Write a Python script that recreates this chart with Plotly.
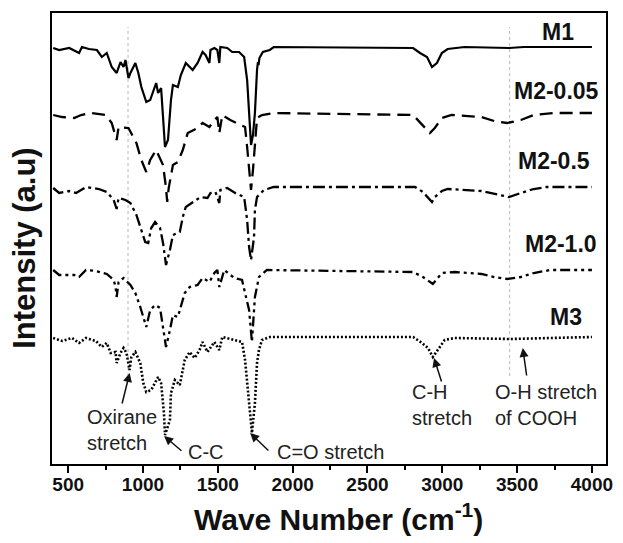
import plotly.graph_objects as go

# ---------------- data ----------------
labels = ["M1", "M2-0.05", "M2-0.5", "M2-1.0", "M3"]

m1_wn = [400, 440, 507, 573, 592, 639, 692, 725, 758, 791, 824, 850, 870, 883, 903, 916,
         949, 969, 989, 1022, 1048, 1068, 1088, 1101, 1121, 1134, 1147, 1167, 1187, 1200,
         1233, 1253, 1286, 1332, 1365, 1398, 1418, 1444, 1451, 1477, 1497, 1510, 1517,
         1563, 1596, 1642, 1676, 1696, 1709, 1722, 1735, 1748, 1762, 1768, 1772, 1778,
         1801, 1847, 1874, 2805, 2851, 2898, 2931, 2964, 2997, 3036, 3149, 3446, 3545, 4000]
m1_int = [416, 414, 416, 411, 417, 415, 414, 407, 411, 397, 391, 402, 397, 404, 386, 391,
          401, 391, 377, 362, 364, 372, 381, 371, 376, 347, 317, 324, 364, 379,
          377, 389, 401, 394, 401, 412, 409, 401, 414, 416, 414, 401, 417,
          416, 412, 412, 407, 384, 351, 319, 329, 351, 394, 402, 399, 406,
          412, 414, 417, 416, 411, 407, 397, 401, 411, 415, 417, 416, 417, 417]

m2a_wn = [400, 460, 540, 586, 652, 751, 791, 824, 837, 903, 956, 989, 1022, 1048, 1088,
          1134, 1154, 1162, 1172, 1200, 1233, 1266, 1299, 1365, 1398, 1444, 1477, 1497,
          1510, 1530, 1583, 1649, 1682, 1696, 1709, 1722, 1735, 1748, 1762, 1795, 1874,
          2805, 2851, 2917, 2950, 2997, 3062, 3261, 3347, 3433, 3525, 3611, 3743, 4000]
m2a_int = [349, 347, 346, 349, 351, 349, 341, 324, 337, 336, 321, 304, 292, 304, 314,
           299, 276, 262, 276, 299, 302, 314, 331, 336, 341, 337, 344, 347,
           331, 349, 344, 339, 337, 317, 297, 274, 294, 324, 346, 349, 351,
           349, 342, 331, 336, 346, 349, 347, 343, 341, 344, 349, 351, 351]

m2b_wn = [400, 440, 507, 553, 619, 705, 758, 804, 824, 837, 883, 916, 956, 989, 1015,
          1035, 1055, 1081, 1114, 1134, 1154, 1180, 1200, 1246, 1266, 1286, 1332, 1385,
          1431, 1451, 1484, 1510, 1517, 1563, 1616, 1676, 1696, 1709, 1722, 1742, 1748,
          1762, 1808, 1874, 2818, 2871, 2931, 2950, 2997, 3036, 3261, 3366, 3446, 3525,
          3611, 3697, 4000]
m2b_int = [276, 271, 273, 271, 277, 275, 272, 264, 255, 266, 264, 261, 249, 234, 222,
           221, 236, 242, 236, 221, 199, 214, 229, 232, 247, 257, 262, 267,
           266, 271, 272, 261, 274, 276, 271, 267, 244, 217, 204, 227, 254,
           267, 274, 277, 277, 272, 262, 267, 273, 275, 273, 270, 267, 271,
           275, 277, 277]

m2c_wn = [400, 440, 540, 573, 619, 685, 758, 804, 817, 824, 837, 870, 916, 949, 982,
          1002, 1022, 1048, 1081, 1114, 1134, 1154, 1180, 1200, 1233, 1253, 1279, 1312,
          1365, 1398, 1444, 1477, 1497, 1510, 1543, 1610, 1662, 1682, 1709, 1728, 1748,
          1775, 1828, 2805, 2871, 2937, 2997, 3083, 3261, 3347, 3433, 3525, 3611, 3723,
          4000]
m2c_int = [194, 189, 189, 187, 194, 193, 190, 184, 177, 167, 182, 186, 179, 171, 157,
           146, 137, 154, 159, 156, 137, 117, 134, 149, 147, 157, 171, 177,
           179, 186, 182, 191, 194, 177, 194, 186, 184, 171, 154, 122, 167,
           187, 194, 192, 187, 180, 191, 192, 190, 187, 185, 187, 191, 194,
           194]

m3_wn = [400, 460, 526, 573, 619, 685, 725, 758, 784, 817, 824, 850, 870, 890, 910,
         923, 949, 982, 1002, 1022, 1055, 1081, 1101, 1121, 1140, 1147, 1167, 1180, 1187,
         1213, 1246, 1279, 1312, 1345, 1378, 1398, 1431, 1477, 1510, 1530, 1610, 1662,
         1682, 1709, 1728, 1748, 1762, 1775, 1795, 1847, 2805, 2865, 2904, 2937, 2970,
         3016, 3083, 3459, 4000]
m3_int = [126, 123, 126, 121, 126, 123, 117, 121, 111, 112, 101, 111, 116, 111, 94,
          107, 112, 101, 81, 72, 74, 81, 87, 81, 51, 29, 39, 44, 71,
          84, 79, 104, 112, 106, 114, 122, 112, 122, 114, 127, 124, 122,
          104, 61, 31, 61, 101, 114, 124, 127, 127, 121, 116, 107, 114,
          124, 126, 125, 127]

series = [(m1_wn, m1_int), (m2a_wn, m2a_int), (m2b_wn, m2b_int), (m2c_wn, m2c_int), (m3_wn, m3_int)]

# ---------------- styles ----------------
dashes = ["solid", "13px,7px", "12px,4px,3px,4px", "10px,4px,3px,4px,3px,4px", "2px,2px"]
widths = [2.2, 2.3, 2.3, 2.3, 2.6]

fig = go.Figure()
for (wn, inten), name, d, w in zip(series, labels, dashes, widths):
    fig.add_trace(go.Scatter(x=wn, y=inten, mode="lines", name=name,
                             line=dict(color="black", width=w, dash=d), showlegend=False))

# grey reference lines
for xv in [900, 3450]:
    fig.add_shape(type="line", x0=xv, x1=xv, y0=88, y1=437, xref="x", yref="y",
                  line=dict(color="#b8b8b8", width=1, dash="3px,3px"), layer="below")

# trace labels
label_pos = [(3775, 432), (3762, 373), (3745, 303), (3792, 220), (3830, 147)]
for name, (lx, ly) in zip(labels, label_pos):
    fig.add_annotation(x=lx, y=ly, text="<b>%s</b>" % name, showarrow=False,
                       font=dict(family="Liberation Sans", size=23, color="#111"),
                       xanchor="center", yanchor="middle")

# peak annotations (text)
ann_font = dict(family="Liberation Sans", size=20, color="#222")
texts = [("Oxirane<br>stretch", 614, 34), ("C-C", 1287, 12), ("C=O stretch", 1881, 12),
         ("C-H<br>stretch", 2786, 59), ("O-H stretch<br>of COOH", 3340, 59)]
for t, tx, ty in texts:
    fig.add_annotation(x=tx, y=ty, text=t, showarrow=False, font=ann_font,
                       xanchor="left", yanchor="middle", align="left")

# arrows (head, tail)
arrows = [((911, 91), (858, 59)), ((1141, 28), (1267, 12)), ((1716, 31), (1848, 12)),
          ((2945, 106), (2998, 81)), ((3538, 116), (3565, 87))]
for (hx, hy), (tx, ty) in arrows:
    fig.add_annotation(x=hx, y=hy, ax=tx, ay=ty, axref="x", ayref="y", xref="x", yref="y",
                       text="", showarrow=True, arrowhead=2, arrowsize=1.2, arrowwidth=1.5,
                       arrowcolor="#111")

# axis titles
fig.add_annotation(xref="paper", yref="paper", x=0.518, y=-0.118,
                   text="<b>Wave Number (cm<sup>-1</sup>)</b>", showarrow=False,
                   font=dict(family="Liberation Sans", size=30, color="#111"),
                   xanchor="center", yanchor="middle")
fig.add_annotation(xref="paper", yref="paper", x=-0.05, y=0.48,
                   text="<b>Intensity (a.u)</b>", showarrow=False, textangle=-90,
                   font=dict(family="Liberation Sans", size=31, color="#111"),
                   xanchor="center", yanchor="middle")

fig.update_xaxes(range=[392, 4094], tick0=500, dtick=500, ticks="outside", ticklen=7,
                 tickwidth=1.5, tickcolor="black", ticklabelstandoff=-5,
                 minor=dict(dtick=250, tick0=500, ticks="outside", ticklen=4, tickwidth=1.5,
                            tickcolor="black"),
                 showline=True, linecolor="black", linewidth=2, mirror=True,
                 showgrid=False, zeroline=False,
                 tickfont=dict(family="Liberation Sans", size=19, color="#111", weight="bold"))
fig.update_yaxes(range=[0, 451], showticklabels=False, ticks="", showgrid=False,
                 zeroline=False, showline=True, linecolor="black", linewidth=2, mirror=True)

fig.update_layout(width=623, height=543, margin=dict(l=52, r=10, t=13, b=79),
                  plot_bgcolor="white", paper_bgcolor="white")

fig.write_html("out.html")
